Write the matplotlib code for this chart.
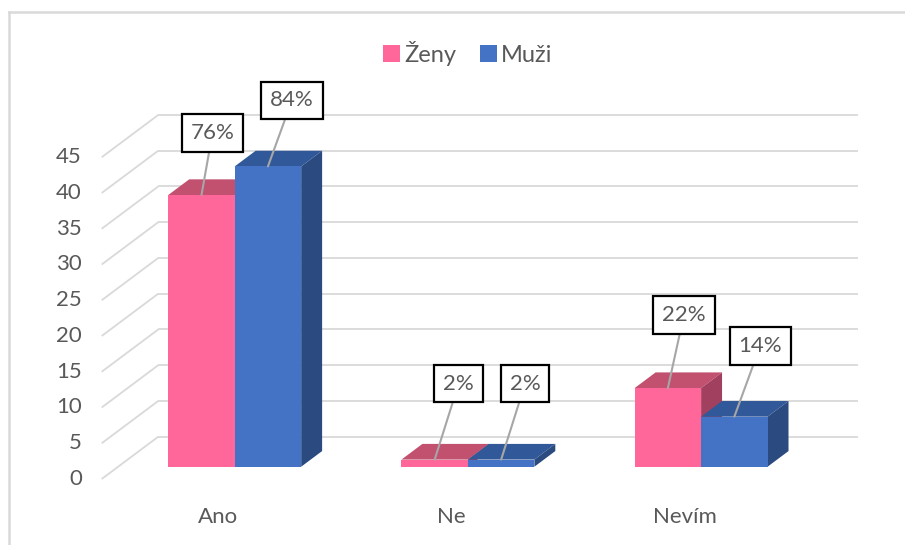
import matplotlib.pyplot as plt
from matplotlib.patches import Polygon, Patch
from matplotlib.lines import Line2D

categories = ["Ano", "Ne", "Nevím"]
zeny = [38, 1, 11]
muzi = [42, 1, 7]
series_names = ["Ženy", "Muži"]
y_ticks = [0, 5, 10, 15, 20, 25, 30, 35, 40, 45]

plt.rcParams['font.family'] = ['Lato', 'DejaVu Sans']

# colours: front, top, side
pink = ("#FF6699", "#C2506F", "#A2405F")
blue = ("#4472C4", "#31599A", "#2B4A80")
grid_c = "#D9D9D9"
text_c = "#595959"

# oblique "3d" projection: depth 0 = front plane, depth 1 = back wall
DX = 0.2427      # x shift of full depth (category units)
DY = 5.92        # y shift of full depth (value units)
D0, D1 = 0.29, 0.66
bar_w = 0.285

# label box offsets (pixels) from bar front-top centre
offs = [[(11, 62), (24, 66)], [(24, 76), (24, 76)], [(16, 73), (26, 71)]]


def P(x, v, d):
    return (x + d * DX, v + d * DY)


fig = plt.figure(figsize=(9.05, 5.45), dpi=100)
ax = fig.add_axes([0, 0, 1, 1])
ax.set_xlim(-0.4361, 3.4447)
ax.set_ylim(-9.23, 66.99)
ax.axis('off')

# gridlines: back wall + left wall diagonals
for t in y_ticks:
    ax.plot([P(0, t, 0)[0], P(0, t, 1)[0]], [P(0, t, 0)[1], P(0, t, 1)[1]],
            color=grid_c, lw=1.3, zorder=1, solid_capstyle='butt')
    ax.plot([P(0, t, 1)[0], P(3, t, 1)[0]], [P(0, t, 1)[1], P(3, t, 1)[1]],
            color=grid_c, lw=1.3, zorder=1, solid_capstyle='butt')
    ax.text(-0.085, t, str(t), ha='right', va='center', fontsize=16, color=text_c)

for i, c in enumerate(categories):
    ax.text(i + 0.5, -5.3, c, ha='center', va='center', fontsize=16, color=text_c)

z = 2
for i in range(len(categories)):
    for j, (vals, cols) in enumerate([(zeny, pink), (muzi, blue)]):
        h = vals[i]
        xl = i + 0.5 - bar_w + j * bar_w
        xr = xl + bar_w
        top = [P(xl, h, D0), P(xr, h, D0), P(xr, h, D1), P(xl, h, D1)]
        side = [P(xr, 0, D0), P(xr, 0, D1), P(xr, h, D1), P(xr, h, D0)]
        front = [P(xl, 0, D0), P(xr, 0, D0), P(xr, h, D0), P(xl, h, D0)]
        ax.add_patch(Polygon(top, closed=True, fc=cols[1], ec='none', zorder=z))
        ax.add_patch(Polygon(side, closed=True, fc=cols[2], ec='none', zorder=z))
        ax.add_patch(Polygon(front, closed=True, fc=cols[0], ec='none', zorder=z + 0.5))
        z += 1
        pct = round(100 * h / sum(vals))
        ax.annotate(f"{pct}%", xy=P(xl + bar_w / 2, h, D0), xytext=offs[i][j],
                    textcoords='offset pixels', ha='center', va='center',
                    fontsize=16, color=text_c, zorder=20,
                    bbox=dict(boxstyle='square,pad=0.4', fc='white', ec='black', lw=1.6),
                    arrowprops=dict(arrowstyle='-', color='#A6A6A6', lw=1.5,
                                    shrinkA=0, shrinkB=0))

handles = [Patch(fc=pink[0], ec='none'), Patch(fc=blue[0], ec='none')]
fig.legend(handles, series_names, loc='center', bbox_to_anchor=(468 / 905, 1 - 53 / 545),
           ncol=2, frameon=False, fontsize=17, handlelength=0.7, handleheight=0.7,
           handletextpad=0.2, columnspacing=1.0, labelcolor=text_c)

# chart border (top and left visible)
fig.add_artist(Line2D([8.5 / 905, 1], [1 - 11.5 / 545, 1 - 11.5 / 545],
                      transform=fig.transFigure, color=grid_c, lw=1.8))
fig.add_artist(Line2D([8.5 / 905, 8.5 / 905], [0, 1 - 11.5 / 545],
                      transform=fig.transFigure, color=grid_c, lw=1.8))

fig.savefig("out.png", dpi=100, facecolor='white')
